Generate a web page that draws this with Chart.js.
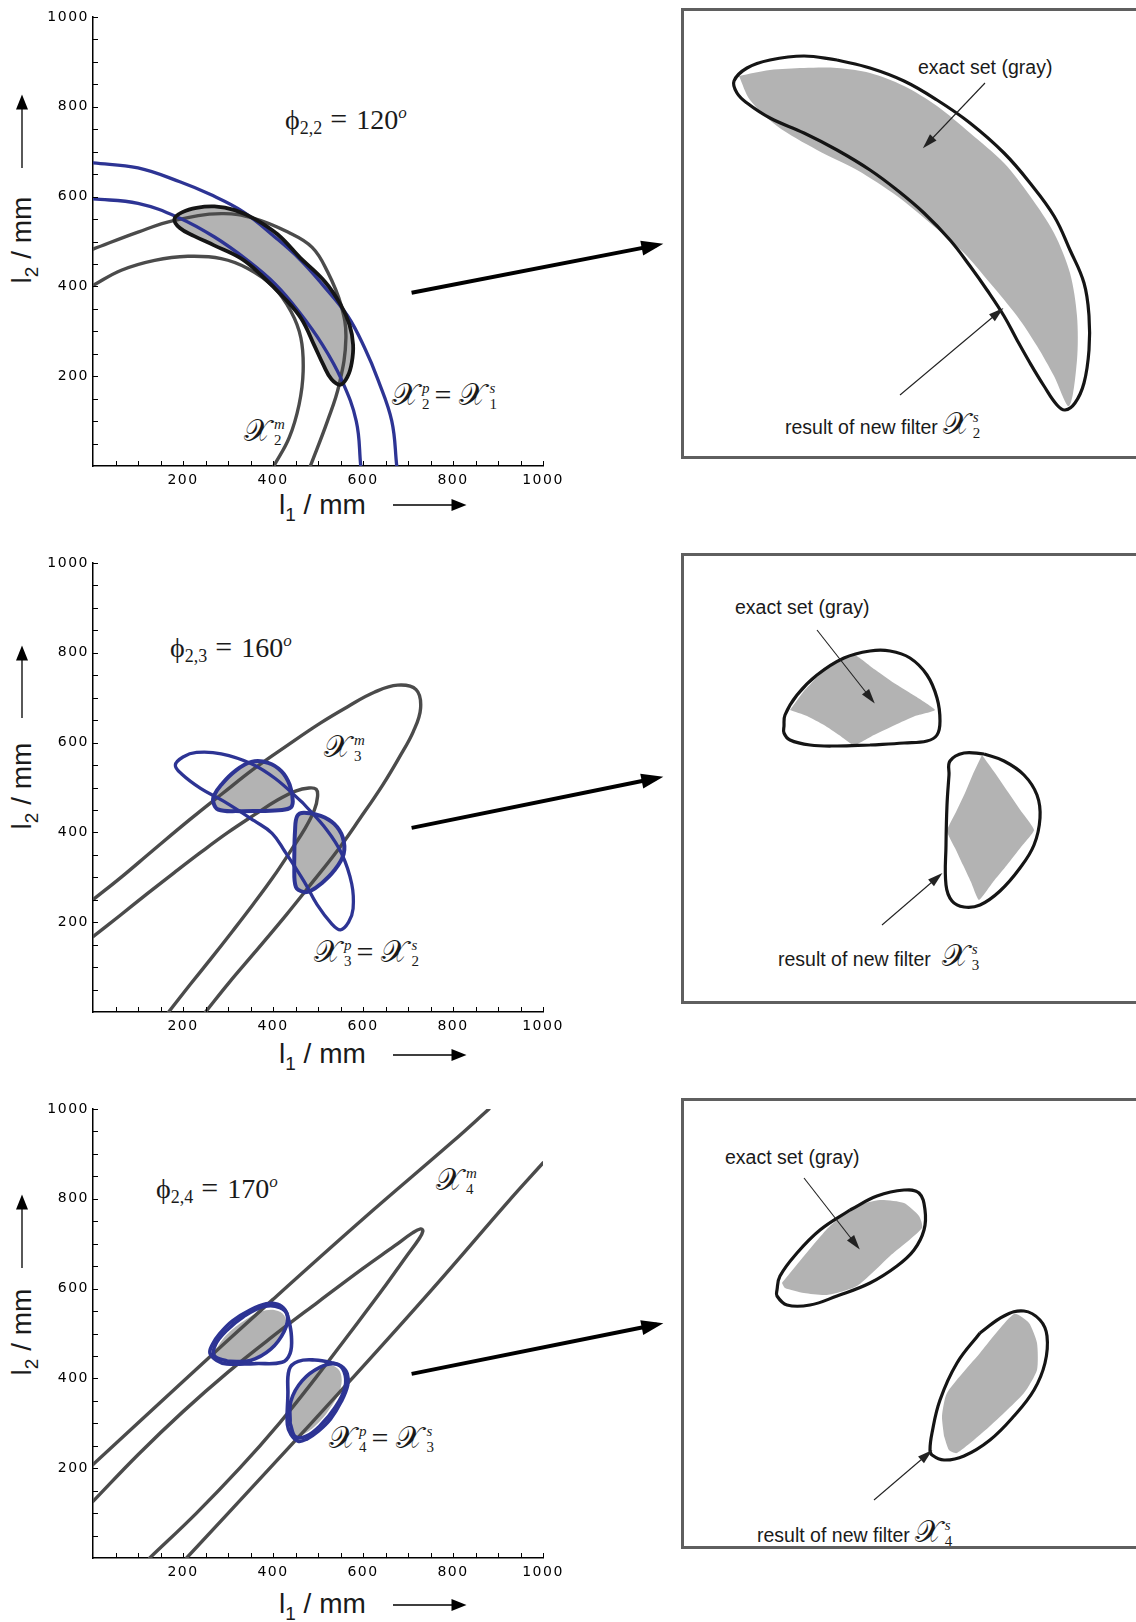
<!DOCTYPE html>
<html>
<head>
<meta charset="utf-8">
<script src="https://cdn.jsdelivr.net/npm/chart.js@4.4.1/dist/chart.umd.min.js"></script>
<style>
  html, body { margin: 0; padding: 0; background: #fff; }
  body { width: 1136px; height: 1622px; position: relative; overflow: hidden;
         font-family: "Liberation Sans", Arial, sans-serif; color: #1a1a1a; }
  canvas { position: absolute; }
  .box { position: absolute; border: 3px solid #5f5f5f; box-sizing: border-box; }
  .t { position: absolute; white-space: nowrap; }
  .phi { font-family: "Liberation Serif", "DejaVu Serif", serif; font-size: 28px; line-height: 27px; }
  .phi sub { font-size: 18px; vertical-align: -5px; line-height: 0; }
  .phi sup { font-size: 17px; vertical-align: 11px; line-height: 0; font-style: italic; }
  .phi .e { font-size: 30px; margin: 0 9px 0 8px; }
  .mx { font-family: "DejaVu Serif", "Liberation Serif", serif; font-size: 31px; line-height: 32px; }
  .ss { display: inline-block; vertical-align: -4px; font-size: 15px; line-height: 16px; margin-left: 3px;
        font-family: "Liberation Serif", serif; }
  .ss i, .ss b { display: block; font-weight: normal; }
  .ss b { font-style: normal; }
  .eq { font-family: "Liberation Serif", serif; font-size: 30px; margin: 0 8px 0 5px; }
  .note { font-size: 19.5px; line-height: 20px; }
  .ax { font-size: 28px; line-height: 28px; }
  .ax sub { font-size: 19px; vertical-align: -7px; line-height: 0; }
  .yax { transform: rotate(-90deg); transform-origin: center center; }
</style>
</head>
<body>

<!-- annotations, row 1 -->
<div class="t phi" style="left:285px;top:105px">ϕ<sub>2,2</sub><span class="e">=</span>120<sup>o</sup></div>
<div class="t mx" style="left:392px;top:378px">𝒳<span class="ss"><i>p</i><b>2</b></span><span class="eq">=</span>𝒳<span class="ss"><i>s</i><b>1</b></span></div>
<div class="t mx" style="left:244px;top:414px">𝒳<span class="ss"><i>m</i><b>2</b></span></div>
<div class="t note" style="left:918px;top:57px">exact set (gray)</div>
<div class="t note" style="left:785px;top:407px">result of new filter<span class="mx" style="margin-left:5px">𝒳<span class="ss"><i>s</i><b>2</b></span></span></div>

<!-- row 2 -->
<div class="t phi" style="left:170px;top:633px">ϕ<sub>2,3</sub><span class="e">=</span>160<sup>o</sup></div>
<div class="t mx" style="left:324px;top:730px">𝒳<span class="ss"><i>m</i><b>3</b></span></div>
<div class="t mx" style="left:314px;top:935px">𝒳<span class="ss"><i>p</i><b>3</b></span><span class="eq">=</span>𝒳<span class="ss"><i>s</i><b>2</b></span></div>
<div class="t note" style="left:735px;top:597px">exact set (gray)</div>
<div class="t note" style="left:778px;top:939px">result of new filter<span class="mx" style="margin-left:11px">𝒳<span class="ss"><i>s</i><b>3</b></span></span></div>

<!-- row 3 -->
<div class="t phi" style="left:156px;top:1174px">ϕ<sub>2,4</sub><span class="e">=</span>170<sup>o</sup></div>
<div class="t mx" style="left:436px;top:1163px">𝒳<span class="ss"><i>m</i><b>4</b></span></div>
<div class="t mx" style="left:329px;top:1421px">𝒳<span class="ss"><i>p</i><b>4</b></span><span class="eq">=</span>𝒳<span class="ss"><i>s</i><b>3</b></span></div>
<div class="t note" style="left:725px;top:1147px">exact set (gray)</div>
<div class="t note" style="left:757px;top:1515px">result of new filter<span class="mx" style="margin-left:5px">𝒳<span class="ss"><i>s</i><b>4</b></span></span></div>

<!-- axis titles -->
<div class="t ax" style="left:279px;top:491px">l<sub>1</sub> / mm</div>
<div class="t ax" style="left:279px;top:1040px">l<sub>1</sub> / mm</div>
<div class="t ax" style="left:279px;top:1590px">l<sub>1</sub> / mm</div>
<div class="t ax yax" style="left:-26px;top:226px;width:96px;text-align:center">l<sub>2</sub> / mm</div>
<div class="t ax yax" style="left:-26px;top:772px;width:96px;text-align:center">l<sub>2</sub> / mm</div>
<div class="t ax yax" style="left:-26px;top:1318px;width:96px;text-align:center">l<sub>2</sub> / mm</div>

<div class="box" style="left:681px;top:8px;width:470px;height:451px"></div>
<div class="box" style="left:681px;top:553px;width:470px;height:451px"></div>
<div class="box" style="left:681px;top:1098px;width:470px;height:451px"></div>

<script>
// ---------- axes ----------
const tickLabels = [200, 400, 600, 800, 1000];
const minorStep = 50;

// ---------- row 1 : phi = 120 ----------
const r1MOuter = [[0,483],[100,521],[181,547],[285,562],[359,551],[433,521],[487,487],[521,433],[551,359],[562,285],[547,181],[521,100],[483,0]];
const r1MInner = [[0,402],[63,436],[137,458],[211,467],[285,462],[344,440],[400,400],[440,344],[462,285],[467,211],[458,137],[436,63],[402,0]];
const r1POuter = [[0,675],[100,664],[193,633],[260,605],[334,566],[404,510],[460,460],[510,404],[566,334],[605,260],[633,193],[664,100],[675,0]];
const r1PInner = [[0,595],[100,585],[193,552],[270,510],[342,459],[405,405],[459,342],[510,270],[552,193],[585,100],[595,0]];
const r1Filter = [[460,464],[516,410],[550,360],[570,315],[578,270],[575,230],[566,200],[550,181],[530,193],[512,225],[492,268],[463,328],[426,373],[373,426],[328,463],[268,492],[225,512],[193,530],[181,550],[200,566],[230,575],[270,578],[315,570],[360,550],[410,516],[460,464]];
const r1Arrow = [[1253,492],[708,386]];

// ---------- row 2 : phi = 160 ----------
const r2MOuter = [[0,250],[65,302],[131,358],[217,430],[287,486],[358,542],[432,594],[506,644],[566,680],[625,712],[677,728],[718,718],[728,677],[712,625],[680,566],[644,506],[594,432],[542,358],[486,287],[430,217],[358,131],[302,65],[250,0]];
const r2MInner = [[0,168],[60,215],[120,263],[180,310],[240,356],[300,400],[360,440],[410,472],[450,492],[480,499],[496,496],[499,480],[492,450],[472,410],[440,360],[400,300],[356,240],[310,180],[263,120],[215,60],[168,0]];
const r2P = [[466,466],[520,405],[553,352],[575,285],[578,230],[568,200],[550,183],[530,197],[498,239],[469,291],[426,358],[398,398],[358,426],[291,469],[239,498],[197,530],[183,550],[200,568],[230,578],[285,575],[352,553],[405,520],[466,466]];
const r2Blob1 = [[330,447],[404,449],[437,454],[444,469],[437,506],[419,536],[389,555],[352,557],[315,536],[285,506],[270,484],[267,469],[278,451],[330,447]];
const r2Blob2 = [[447,330],[449,404],[454,437],[469,444],[506,437],[536,419],[555,389],[557,352],[536,315],[506,285],[484,270],[469,267],[451,278],[447,330]];
const r2Arrow = [[1253,521],[708,410]];

// ---------- row 3 : phi = 170 ----------
const r3MUpper = [[0,208],[200,393],[400,576],[600,755],[800,928],[880,1000]];
const r3MLoop = [[0,126],[100,230],[200,326],[300,414],[400,494],[500,570],[600,645],[670,695],[710,724],[728,733],[733,728],[724,710],[695,670],[645,600],[570,500],[494,400],[414,300],[326,200],[230,100],[126,0]];
const r3MLower = [[208,0],[393,200],[576,400],[755,600],[928,800],[1000,880]];
const r3Blob1Out = [[360,433],[420,436],[438,456],[441,493],[435,530],[427,552],[410,565],[385,566],[349,552],[310,528],[282,500],[265,475],[260,456],[275,440],[297,432],[360,433]];
const r3Blob1In = [[300,438],[350,440],[395,465],[425,505],[432,540],[415,558],[380,560],[335,538],[295,505],[272,475],[270,450],[300,438]];
const r3Blob1Set = [[300,440],[340,440],[380,458],[412,485],[428,515],[425,540],[405,552],[372,548],[335,528],[300,500],[278,472],[272,452],[300,440]];
const r3Blob2Out = [[433,360],[436,420],[456,438],[493,441],[530,435],[552,427],[565,410],[566,385],[552,349],[528,310],[500,282],[475,265],[456,260],[440,275],[432,297],[433,360]];
const r3Blob2In = [[438,300],[440,350],[465,395],[505,425],[540,432],[558,415],[560,380],[538,335],[505,295],[475,272],[450,270],[438,300]];
const r3Blob2Set = [[440,300],[440,340],[458,380],[485,412],[515,428],[540,425],[552,405],[548,372],[528,335],[500,300],[472,278],[452,272],[440,300]];
const r3Arrow = [[1253,520],[708,410]];

// ---------- zoomed boxes (box-local units) ----------
const b1Outline = [[154,51],[187,59],[221,72],[254,91],[287,114],[321,144],[347,174],[371,207],[387,241],[401,274],[406,307],[406,341],[401,374],[392,394],[382,401],[374,396],[361,377],[347,354],[334,331],[321,307],[304,281],[287,257],[267,231],[241,204],[214,181],[187,161],[154,141],[121,124],[87,109],[64,94],[54,84],[51,72],[64,59],[87,51],[121,47],[154,51]];
const b1Exact = [[56,67],[87,61],[121,59],[154,59],[187,64],[221,77],[254,97],[287,124],[321,154],[347,187],[371,224],[387,264],[394,307],[394,351],[386,397],[371,367],[354,337],[334,307],[307,274],[281,244],[247,214],[214,187],[174,161],[134,141],[94,117],[67,91],[56,67]];
const b1ArrowSet = [[243,136],[302,74]];
const b1ArrowFilter = [[317,302],[217,386]];

const b2OutlineA = [[187,191],[154,192],[127,191],[107,186],[101,179],[101,172],[102,161],[114,141],[134,121],[161,104],[187,97],[207,97],[227,104],[244,121],[254,144],[257,167],[254,181],[244,187],[221,189],[187,191]];
const b2ExactA = [[107,156],[121,137],[141,117],[171,101],[191,115],[211,129],[232,142],[252,156],[232,162],[212,171],[191,181],[171,191],[156,181],[141,171],[124,162],[107,156]];
const b2OutlineB = [[301,200],[321,207],[341,221],[354,241],[357,264],[351,291],[337,314],[317,337],[297,351],[281,353],[269,347],[263,331],[263,291],[264,251],[266,221],[267,207],[281,199],[301,200]];
const b2ExactB = [[299,201],[312,219],[325,238],[338,257],[351,276],[338,293],[324,311],[310,328],[296,346],[288,328],[280,311],[272,294],[264,277],[273,258],[282,239],[290,220],[299,201]];
const b2ArrowSet = [[189,146],[134,76]];
const b2ArrowFilter = [[256,322],[199,371]];

const b3OutlineA = [[167,111],[194,97],[221,91],[236,94],[242,111],[241,131],[231,151],[214,167],[187,184],[154,197],[127,206],[104,206],[94,197],[94,191],[97,177],[114,154],[137,131],[167,111]];
const b3ExactA = [[99,184],[121,157],[147,127],[174,107],[197,101],[221,104],[236,117],[239,129],[207,157],[174,187],[144,196],[121,194],[102,189],[99,184]];
const b3OutlineB = [[297,234],[321,217],[341,212],[357,221],[364,237],[362,264],[351,291],[331,317],[307,341],[281,357],[261,361],[249,356],[247,351],[249,334],[257,301],[274,264],[297,234]];
const b3ExactB = [[261,337],[259,317],[264,294],[297,254],[331,215],[346,224],[354,244],[354,271],[341,294],[307,327],[274,354],[266,351],[261,337]];
const b3ArrowSet = [[174,147],[121,79]];
const b3ArrowFilter = [[246,354],[191,401]];

// ---------- styling ----------
const GRAY = '#4b4b4b';
const BLUE = '#2d3494';
const SHADE = '#b3b3b3';
const INK = '#151515';

const P = (a) => a.map(([x, y]) => ({ x, y }));

function curve(data, color, width, order) {
  return { data: P(data), borderColor: color, borderWidth: width, fill: false, order, pointRadius: 0 };
}
function shade(data, order, tension) {
  return { data: P(data), borderWidth: 0, borderColor: 'rgba(0,0,0,0)', backgroundColor: SHADE,
           fill: 'shape', order, pointRadius: 0, tension: tension === undefined ? 0.4 : tension };
}
function arrow(data, color, width, head) {
  return { data: P(data), borderColor: color, borderWidth: width, tension: 0, clip: false,
           fill: false, order: 1, pointRadius: 0, borderCapStyle: 'butt', head };
}

function drawHead(ctx, x0, y0, x1, y1, len, wid, color) {
  const a = Math.atan2(y1 - y0, x1 - x0);
  ctx.save();
  ctx.translate(x1, y1);
  ctx.rotate(a);
  ctx.beginPath();
  ctx.moveTo(len * 0.3, 0);
  ctx.lineTo(-len * 0.7, wid / 2);
  ctx.lineTo(-len * 0.7, -wid / 2);
  ctx.closePath();
  ctx.fillStyle = color;
  ctx.fill();
  ctx.restore();
}

const arrowHeads = {
  id: 'arrowHeads',
  afterDatasetsDraw(chart) {
    chart.data.datasets.forEach((ds, i) => {
      if (!ds.head) return;
      const pts = chart.getDatasetMeta(i).data;
      drawHead(chart.ctx, pts[1].x, pts[1].y, pts[0].x, pts[0].y, ds.head[0], ds.head[1], ds.borderColor);
    });
  }
};

const innerTicks = {
  id: 'innerTicks',
  afterDraw(chart) {
    const { ctx, chartArea: a, scales: { x, y } } = chart;
    ctx.save();
    ctx.strokeStyle = '#000';
    ctx.lineWidth = 1;
    ctx.beginPath();
    for (let v = minorStep; v <= 1000; v += minorStep) {
      const px = Math.round(x.getPixelForValue(v)) + 0.5;
      const py = Math.round(y.getPixelForValue(v)) + 0.5;
      ctx.moveTo(px, a.bottom); ctx.lineTo(px, a.bottom - 5);
      ctx.moveTo(a.left, py); ctx.lineTo(a.left + 5, py);
    }
    ctx.stroke();
    ctx.restore();
  }
};

const spacedTicks = {
  id: 'spacedTicks',
  beforeDraw(chart) { chart.ctx.letterSpacing = '1.5px'; },
  afterDraw(chart) { chart.ctx.letterSpacing = '0px'; }
};

function axisArrows(yFrom, yTo, xRowY) {
  return {
    id: 'axisArrows',
    afterDraw(chart) {
      const ctx = chart.ctx;
      ctx.save();
      ctx.strokeStyle = '#000';
      ctx.lineWidth = 1.3;
      ctx.beginPath();
      ctx.moveTo(22, yFrom); ctx.lineTo(22, yTo + 8);
      ctx.moveTo(393, xRowY); ctx.lineTo(458, xRowY);
      ctx.stroke();
      ctx.restore();
      drawHead(ctx, 22, yFrom, 22, yTo + 4, 15, 12, '#000');
      drawHead(ctx, 393, xRowY, 462, xRowY, 15, 12, '#000');
    }
  };
}

function tickAxis(pad) {
  return {
    type: 'linear', min: 0, max: 1000,
    grid: { display: false, drawTicks: false },
    border: { color: '#000', width: 1.5 },
    ticks: {
      stepSize: 200, padding: pad, color: '#000', autoSkip: false, maxRotation: 0,
      font: { family: 'DejaVu Sans', size: 14 },
      callback: (v) => (tickLabels.includes(v) ? String(v) : '')
    }
  };
}

function mkCanvas(left, top, w, h) {
  const c = document.createElement('canvas');
  c.width = w; c.height = h;
  c.style.left = left + 'px'; c.style.top = top + 'px';
  c.style.width = w + 'px'; c.style.height = h + 'px';
  document.body.appendChild(c);
  return c;
}

function plotChart(top, datasets, arrows) {
  const x = tickAxis(6);
  const y = tickAxis(4);
  x.afterFit = (s) => { s.height = 64; };
  y.afterFit = (s) => { s.width = 93; };
  return new Chart(mkCanvas(0, top, 683, 530), {
    type: 'line',
    data: { datasets },
    options: {
      responsive: false, animation: false, events: [],
      layout: { padding: { left: 0, top: 17, right: 140, bottom: 0 } },
      plugins: { legend: { display: false }, tooltip: { enabled: false } },
      elements: { line: { tension: 0.4, borderJoinStyle: 'round', borderCapStyle: 'round' } },
      scales: { x, y }
    },
    plugins: [spacedTicks, innerTicks, arrowHeads, arrows]
  });
}

function boxChart(top, datasets) {
  return new Chart(mkCanvas(683, top, 453, 450), {
    type: 'line',
    data: { datasets },
    options: {
      responsive: false, animation: false, events: [],
      layout: { padding: 0 },
      plugins: { legend: { display: false }, tooltip: { enabled: false } },
      elements: { line: { tension: 0.4, borderJoinStyle: 'round' } },
      scales: {
        x: { type: 'linear', display: false, min: 0, max: 453 },
        y: { type: 'linear', display: false, min: 0, max: 450, reverse: true }
      }
    },
    plugins: [arrowHeads]
  });
}

// ---------- left plots ----------
plotChart(0, [
  shade(r1Filter, 10),
  curve(r1MOuter, GRAY, 3.4, 8),
  curve(r1MInner, GRAY, 3.4, 8),
  curve(r1POuter, BLUE, 3.3, 6),
  curve(r1PInner, BLUE, 3.3, 6),
  curve(r1Filter, INK, 3.8, 4),
  arrow(r1Arrow, '#000', 4, [22, 15])
], axisArrows(168, 95, 505));

plotChart(546, [
  shade(r2Blob1, 10),
  shade(r2Blob2, 10),
  curve(r2MOuter, GRAY, 3.4, 8),
  curve(r2MInner, GRAY, 3.4, 8),
  curve(r2P, BLUE, 3.3, 6),
  curve(r2Blob1, BLUE, 4, 4),
  curve(r2Blob2, BLUE, 4, 4),
  arrow(r2Arrow, '#000', 4, [22, 15])
], axisArrows(172, 100, 509));

plotChart(1092, [
  shade(r3Blob1Set, 10),
  shade(r3Blob2Set, 10),
  curve(r3MUpper, GRAY, 3.4, 8),
  curve(r3MLoop, GRAY, 3.4, 8),
  curve(r3MLower, GRAY, 3.4, 8),
  curve(r3Blob1Out, BLUE, 3.6, 4),
  curve(r3Blob1In, BLUE, 3.6, 4),
  curve(r3Blob2Out, BLUE, 3.6, 4),
  curve(r3Blob2In, BLUE, 3.6, 4),
  arrow(r3Arrow, '#000', 4, [22, 15])
], axisArrows(176, 103, 513));

// ---------- zoomed boxes ----------
boxChart(9, [
  shade(b1Exact, 10, 0.3),
  curve(b1Outline, INK, 3.2, 4),
  arrow(b1ArrowSet, '#222', 1.1, [15, 9]),
  arrow(b1ArrowFilter, '#222', 1.1, [15, 9])
]);

boxChart(554, [
  shade(b2ExactA, 10, 0.15),
  shade(b2ExactB, 10, 0.15),
  curve(b2OutlineA, INK, 3.2, 4),
  curve(b2OutlineB, INK, 3.2, 4),
  arrow(b2ArrowSet, '#222', 1.1, [15, 9]),
  arrow(b2ArrowFilter, '#222', 1.1, [15, 9])
]);

boxChart(1099, [
  shade(b3ExactA, 10, 0.2),
  shade(b3ExactB, 10, 0.2),
  curve(b3OutlineA, INK, 3.2, 4),
  curve(b3OutlineB, INK, 3.2, 4),
  arrow(b3ArrowSet, '#222', 1.1, [15, 9]),
  arrow(b3ArrowFilter, '#222', 1.1, [15, 9])
]);
</script>
</body>
</html>
